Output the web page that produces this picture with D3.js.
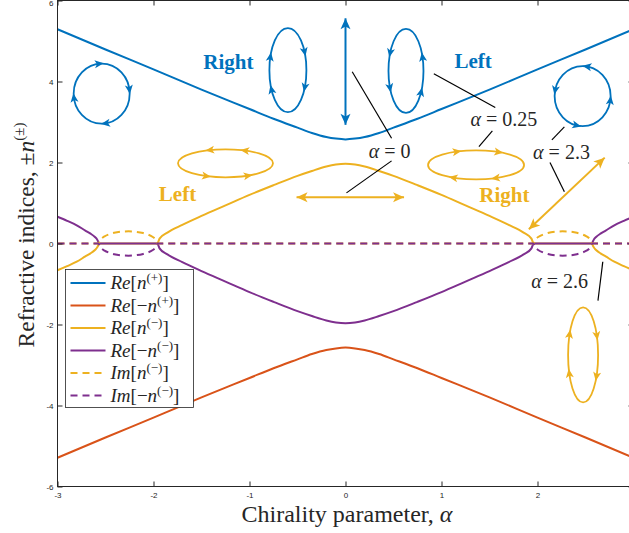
<!DOCTYPE html>
<html>
<head>
<meta charset="utf-8">
<script src="https://cdn.jsdelivr.net/npm/d3@7"></script>
<style>
  body { margin: 0; background: #fff; }
  svg { display: block; }
  .tick text { font-family: "Liberation Sans", Arial, sans-serif; font-size: 8px; fill: #262626; }
  .tick line { stroke: #262626; }
  .serif { font-family: "Liberation Serif", serif; }
</style>
</head>
<body>
<svg id="chart" width="629" height="533"></svg>
<script>
// 1: DATA
const xTicks = [-3, -2, -1, 0, 1, 2, 3];
const yTicks = [-6, -4, -2, 0, 2, 4, 6];

// Re[n(+)] and Re[-n(+)]
const alphaPlus = [-3, -2.5, -2, -1.5, -1, -0.75, -0.5, -0.35, -0.2, -0.1, 0,
                   0.1, 0.2, 0.35, 0.5, 0.75, 1, 1.5, 2, 2.5, 3];
const rePlus = [5.29, 4.79, 4.30, 3.80, 3.32, 3.08, 2.86, 2.73, 2.63, 2.59, 2.57,
                2.59, 2.63, 2.73, 2.86, 3.08, 3.32, 3.80, 4.30, 4.79, 5.29];
const reNegPlus = [-5.29, -4.79, -4.30, -3.80, -3.32, -3.08, -2.86, -2.73, -2.63, -2.59, -2.57,
                   -2.59, -2.63, -2.73, -2.86, -3.08, -3.32, -3.80, -4.30, -4.79, -5.29];

// Re[n(-)] and Re[-n(-)]
const alphaMinus = [-3, -2.9, -2.8, -2.71, -2.66, -2.61, -2.585, -2.575, -2.57,
                    -1.96, -1.937, -1.855, -1.7, -1.5, -1.25, -1, -0.75, -0.5, -0.35, -0.2, -0.1, 0,
                    0.1, 0.2, 0.35, 0.5, 0.75, 1, 1.25, 1.5, 1.7, 1.855, 1.937, 1.96,
                    2.57, 2.575, 2.585, 2.61, 2.66, 2.71, 2.8, 2.9, 3];
const reMinus = [-0.66, -0.56, -0.45, -0.32, -0.25, -0.16, -0.09, -0.04, 0,
                 0, 0.12, 0.27, 0.46, 0.68, 0.94, 1.20, 1.44, 1.67, 1.79, 1.90, 1.95, 1.97,
                 1.95, 1.90, 1.79, 1.67, 1.44, 1.20, 0.94, 0.68, 0.46, 0.27, 0.12, 0,
                 0, -0.04, -0.09, -0.16, -0.25, -0.32, -0.45, -0.56, -0.66];
const reNegMinus = [0.66, 0.56, 0.45, 0.32, 0.25, 0.16, 0.09, 0.04, 0,
                    0, -0.12, -0.27, -0.46, -0.68, -0.94, -1.20, -1.44, -1.67, -1.79, -1.90, -1.95, -1.97,
                    -1.95, -1.90, -1.79, -1.67, -1.44, -1.20, -0.94, -0.68, -0.46, -0.27, -0.12, 0,
                    0, 0.04, 0.09, 0.16, 0.25, 0.32, 0.45, 0.56, 0.66];

// Im[n(-)] and Im[-n(-)]
const alphaIm = [-3, -2.57, -2.562, -2.54, -2.51, -2.46, -2.41, -2.31, -2.26, -2.207, -2.107, -2.057, -2.007, -1.987, -1.967, -1.96,
                 1.96, 1.967, 1.987, 2.007, 2.057, 2.107, 2.207, 2.26, 2.31, 2.41, 2.46, 2.51, 2.54, 2.562, 2.57, 3];
const imMinus = [0, 0, 0.069, 0.126, 0.177, 0.23, 0.264, 0.297, 0.30, 0.295, 0.257, 0.22, 0.16, 0.124, 0.065, 0,
                 0, 0.065, 0.124, 0.16, 0.22, 0.257, 0.295, 0.30, 0.297, 0.264, 0.23, 0.177, 0.126, 0.069, 0, 0];
const imNegMinus = [0, 0, -0.069, -0.126, -0.177, -0.23, -0.264, -0.297, -0.30, -0.295, -0.257, -0.22, -0.16, -0.124, -0.065, 0,
                    0, -0.065, -0.124, -0.16, -0.22, -0.257, -0.295, -0.30, -0.297, -0.264, -0.23, -0.177, -0.126, -0.069, 0, 0];

const BLUE = "#0072BD", ORANGE = "#D95319", YELLOW = "#EDB120", PURPLE = "#7E2F8E";

const series = [
  { xs: alphaPlus, ys: rePlus, color: BLUE, dash: null, label: [["Re", 1], ["[", 0], ["n", 1], ["(+)", 2], ["]", 0]] },
  { xs: alphaPlus, ys: reNegPlus, color: ORANGE, dash: null, label: [["Re", 1], ["[\u2212", 0], ["n", 1], ["(+)", 2], ["]", 0]] },
  { xs: alphaMinus, ys: reMinus, color: YELLOW, dash: null, label: [["Re", 1], ["[", 0], ["n", 1], ["(\u2212)", 2], ["]", 0]] },
  { xs: alphaMinus, ys: reNegMinus, color: PURPLE, dash: null, label: [["Re", 1], ["[\u2212", 0], ["n", 1], ["(\u2212)", 2], ["]", 0]] },
  { xs: alphaIm, ys: imMinus, color: YELLOW, dash: "7,5", label: [["Im", 1], ["[", 0], ["n", 1], ["(\u2212)", 2], ["]", 0]] },
  { xs: alphaIm, ys: imNegMinus, color: PURPLE, dash: "7,5", label: [["Im", 1], ["[\u2212", 0], ["n", 1], ["(\u2212)", 2], ["]", 0]] }
];

// 2: SET GLOBAL VARIABLES
const margin = { top: 0.5, left: 57.5 };
const width = 576;
const height = 486;
const AX = "#262626";

const svg = d3.select("#chart");
const g = svg.append("g").attr("transform", `translate(${margin.left},${margin.top})`);

// 3: SCALES
const x = d3.scaleLinear().domain([-3, 3]).range([0, width]);
const y = d3.scaleLinear().domain([-6, 6]).range([height, 0]);

g.append("clipPath").attr("id", "plotClip")
  .append("rect").attr("width", width).attr("height", height);

// 4: PLOT DATA
const line = d3.line()
  .x(d => x(d[0]))
  .y(d => y(d[1]))
  .curve(d3.curveMonotoneX);

const plot = g.append("g").attr("clip-path", "url(#plotClip)");
series.forEach(s => {
  plot.append("path")
    .datum(s.xs.map((v, i) => [v, s.ys[i]]))
    .attr("fill", "none")
    .attr("stroke", s.color)
    .attr("stroke-width", 2)
    .attr("stroke-dasharray", s.dash)
    .attr("d", line);
});

// 5: AXES (inward ticks, box); the "3" label sits outside the window in the original
const fmt = d => (d === 3 ? "" : String(d));
g.append("g").attr("transform", `translate(0,${height})`)
  .call(d3.axisBottom(x).tickValues(xTicks).tickFormat(fmt).tickSizeInner(-5).tickSizeOuter(0).tickPadding(6));
const yAxis = g.append("g")
  .call(d3.axisLeft(y).tickValues(yTicks).tickFormat(fmt).tickSizeInner(-5).tickSizeOuter(0).tickPadding(4));
yAxis.selectAll(".tick text").filter(d => d === 6).attr("dy", "0.6em");
g.append("g")
  .call(d3.axisTop(x).tickValues(xTicks).tickFormat("").tickSizeInner(-5).tickSizeOuter(0));
g.append("g").attr("transform", `translate(${width},0)`)
  .call(d3.axisRight(y).tickValues(yTicks).tickFormat("").tickSizeInner(-5).tickSizeOuter(0));
g.selectAll(".domain").remove();
g.append("rect")
  .attr("width", width).attr("height", height)
  .attr("fill", "none").attr("stroke", AX).attr("stroke-width", 1);

// 6: LABELS
const xt = svg.append("text").attr("class", "serif")
  .attr("x", 347).attr("y", 522)
  .attr("text-anchor", "middle")
  .attr("font-size", 24).attr("fill", AX);
xt.append("tspan").text("Chirality parameter, ");
xt.append("tspan").attr("font-style", "italic").text("\u03b1");

const yt = svg.append("text").attr("class", "serif")
  .attr("transform", "translate(34,235) rotate(-90)")
  .attr("text-anchor", "middle")
  .attr("font-size", 23.5).attr("fill", AX);
yt.append("tspan").text("Refractive indices, \u00b1");
yt.append("tspan").attr("font-style", "italic").text("n");
yt.append("tspan").attr("font-size", 15).attr("dy", -10).text("(\u00b1)");

// 7: ANNOTATIONS (polarisation sketches)
const ann = g.append("g");

function arrowHead(sel, px, py, ang, color, L, W) {
  sel.append("path")
    .attr("d", `M${L / 2},0 L${-L / 2},${-W / 2} L${-L / 4},0 L${-L / 2},${W / 2} Z`)
    .attr("transform", `translate(${px},${py}) rotate(${ang})`)
    .attr("fill", color);
}

const ellipses = [
  { a: -2.54, n: 3.70, rx: 28, ry: 30, color: BLUE, arrows: [[-95, 1], [-8, 1], [82, 1], [172, 1]] },
  { a: -0.60, n: 4.28, rx: 18.5, ry: 42, color: BLUE, arrows: [[198.5, 1], [152.6, 1], [-25.8, 1], [24.3, 1]] },
  { a: 0.63, n: 4.26, rx: 17.5, ry: 42, color: BLUE, arrows: [[205.4, -1], [156.1, -1], [-19.5, -1], [30, -1]] },
  { a: 2.47, n: 3.64, rx: 28, ry: 30, color: BLUE, arrows: [[-81, -1], [191.5, -1], [102, -1], [8, -1]] },
  { a: -1.25, n: 1.98, rx: 47.5, ry: 14, color: YELLOW, arrows: [[-109.3, -1], [-66, -1], [113.6, -1], [61.6, -1]] },
  { a: 1.36, n: 1.94, rx: 48, ry: 14.5, color: YELLOW, arrows: [[-113.4, 1], [-61.8, 1], [118.4, 1], [66, 1]] },
  { a: 2.475, n: -2.75, rx: 15, ry: 47.5, color: YELLOW, arrows: [[206.2, 1], [157.3, 1], [-23.6, 1], [27.2, 1]] }
];

ellipses.forEach(e => {
  const cx = x(e.a), cy = y(e.n);
  ann.append("ellipse")
    .attr("cx", cx).attr("cy", cy).attr("rx", e.rx).attr("ry", e.ry)
    .attr("fill", "none").attr("stroke", e.color).attr("stroke-width", 1.8);
  e.arrows.forEach(([deg, dir]) => {
    const t = deg * Math.PI / 180;
    const px = cx + e.rx * Math.cos(t), py = cy + e.ry * Math.sin(t);
    const tx = -e.rx * Math.sin(t) * dir, ty = e.ry * Math.cos(t) * dir;
    arrowHead(ann, px, py, Math.atan2(ty, tx) * 180 / Math.PI, e.color, 9, 8);
  });
});

const dblArrows = [
  { a1: 0, n1: 5.56, a2: 0, n2: 2.93, color: BLUE },
  { a1: -0.51, n1: 1.14, a2: 0.61, n2: 1.14, color: YELLOW },
  { a1: 2.70, n1: 2.12, a2: 1.91, n2: 0.35, color: YELLOW }
];

dblArrows.forEach(d => {
  const x1 = x(d.a1), y1 = y(d.n1), x2 = x(d.a2), y2 = y(d.n2);
  const ang = Math.atan2(y2 - y1, x2 - x1) * 180 / Math.PI;
  ann.append("line")
    .attr("x1", x1).attr("y1", y1).attr("x2", x2).attr("y2", y2)
    .attr("stroke", d.color).attr("stroke-width", 2);
  const L = 11, W = 10;
  const ux = Math.cos(ang * Math.PI / 180), uy = Math.sin(ang * Math.PI / 180);
  arrowHead(ann, x2 - ux * L / 2, y2 - uy * L / 2, ang, d.color, L, W);
  arrowHead(ann, x1 + ux * L / 2, y1 + uy * L / 2, ang + 180, d.color, L, W);
});

const pointers = [
  [0.48, 2.60, 0.07, 4.24],
  [0.48, 2.04, 0.01, 1.25],
  [1.56, 3.36, 0.92, 4.19],
  [1.53, 2.78, 1.39, 2.39],
  [2.28, 2.88, 2.15, 2.56],
  [2.13, 2.00, 2.28, 1.28],
  [2.68, -0.45, 2.63, -1.41]
];
pointers.forEach(p => {
  ann.append("line")
    .attr("x1", x(p[0])).attr("y1", y(p[1])).attr("x2", x(p[2])).attr("y2", y(p[3]))
    .attr("stroke", "#000").attr("stroke-width", 1.2);
});

const handLabels = [
  { t: "Right", a: -1.22, n: 4.49, color: BLUE },
  { t: "Left", a: 1.33, n: 4.51, color: BLUE },
  { t: "Left", a: -1.75, n: 1.22, color: YELLOW },
  { t: "Right", a: 1.655, n: 1.20, color: YELLOW }
];
handLabels.forEach(l => {
  ann.append("text").attr("class", "serif")
    .attr("x", x(l.a)).attr("y", y(l.n)).attr("dy", "0.35em")
    .attr("text-anchor", "middle")
    .attr("font-weight", "bold").attr("font-size", 21)
    .attr("fill", l.color).text(l.t);
});

const alphaLabels = [
  { v: "0", a: 0.46, n: 2.29 },
  { v: "0.25", a: 1.65, n: 3.07 },
  { v: "2.3", a: 2.25, n: 2.27 },
  { v: "2.6", a: 2.23, n: -0.92 }
];
alphaLabels.forEach(l => {
  const t = ann.append("text").attr("class", "serif")
    .attr("x", x(l.a)).attr("y", y(l.n)).attr("dy", "0.35em")
    .attr("text-anchor", "middle")
    .attr("font-size", 20).attr("fill", AX);
  t.append("tspan").attr("font-style", "italic").text("\u03b1");
  t.append("tspan").text(" = " + l.v);
});

// 8: LEGEND
const lg = svg.append("g").attr("transform", "translate(65.5,269.5)");
lg.append("rect")
  .attr("width", 128).attr("height", 138)
  .attr("fill", "#fff").attr("stroke", AX).attr("stroke-width", 0.8);
series.forEach((s, i) => {
  const yy = 13.5 + i * 22.5;
  lg.append("line")
    .attr("x1", 5).attr("x2", 40).attr("y1", yy).attr("y2", yy)
    .attr("stroke", s.color).attr("stroke-width", 2)
    .attr("stroke-dasharray", s.dash);
  const t = lg.append("text").attr("class", "serif")
    .attr("x", 45).attr("y", yy + 6)
    .attr("font-size", 19).attr("fill", AX);
  s.label.forEach(([txt, kind]) => {
    const ts = t.append("tspan").text(txt);
    if (kind === 1) ts.attr("font-style", "italic");
    if (kind === 2) ts.attr("font-size", 13).attr("dy", -7);
    if (txt === "]") ts.attr("dy", 7);
  });
});
</script>
</body>
</html>
